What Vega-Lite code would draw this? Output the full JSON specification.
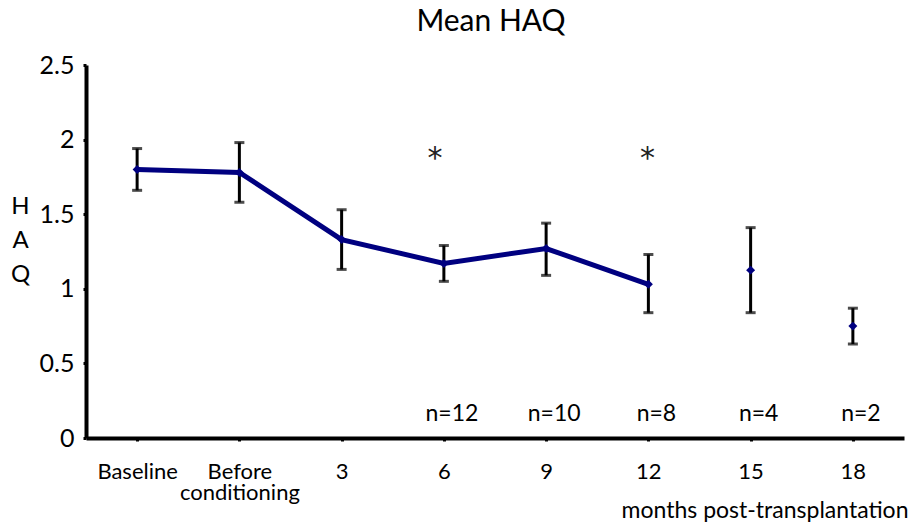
{
  "$schema": "https://vega.github.io/schema/vega-lite/v6.json",
  "autosize": "none",
  "width": 818,
  "height": 373,
  "padding": {"left": 86, "top": 65, "right": 11, "bottom": 90},
  "background": "white",
  "config": {
    "view": {"stroke": null},
    "font": "Lato",
    "axis": {"grid": false, "labelFont": "Lato", "titleFont": "Lato", "labelColor": "black", "titleColor": "black", "domainColor": "black", "tickColor": "black", "titleFontWeight": "normal"}
  },
  "title": {"text": "Mean HAQ", "fontSize": 30, "font": "Lato", "fontWeight": "normal", "color": "black", "anchor": "middle", "baseline": "alphabetic", "offset": -8, "dx": -4},
  "data": {
    "values": [
      {"time": "Baseline", "mean": 1.80, "lo": 1.66, "hi": 1.94, "connected": true, "n": null, "star": ""},
      {"time": "Before conditioning", "mean": 1.78, "lo": 1.58, "hi": 1.98, "connected": true, "n": null, "star": ""},
      {"time": "3", "mean": 1.33, "lo": 1.13, "hi": 1.53, "connected": true, "n": null, "star": ""},
      {"time": "6", "mean": 1.17, "lo": 1.05, "hi": 1.29, "connected": true, "n": "n=12", "star": "a"},
      {"time": "9", "mean": 1.27, "lo": 1.09, "hi": 1.44, "connected": true, "n": "n=10", "star": ""},
      {"time": "12", "mean": 1.03, "lo": 0.84, "hi": 1.23, "connected": true, "n": "n=8", "star": "b"},
      {"time": "15", "mean": 1.125, "lo": 0.84, "hi": 1.41, "connected": false, "n": "n=4", "star": ""},
      {"time": "18", "mean": 0.75, "lo": 0.63, "hi": 0.87, "connected": false, "n": "n=2", "star": ""}
    ]
  },
  "encoding": {
    "x": {
      "field": "time",
      "type": "ordinal",
      "sort": ["Baseline", "Before conditioning", "3", "6", "9", "12", "15", "18"],
      "scale": {"type": "point", "padding": 0.5},
      "axis": {
        "title": "months post-transplantation",
        "titleFontSize": 23,
        "titleAlign": "right",
        "titleAnchor": "end",
        "titleX": 822,
        "titleY": 79,
        "titleBaseline": "alphabetic",
        "labelAngle": 0,
        "labelFontSize": 22,
        "labelPadding": 20,
        "labelBaseline": "top",
        "labelLineHeight": 21,
        "labelExpr": "datum.value == 'Before conditioning' ? ['Before', 'conditioning'] : datum.value",
        "domainWidth": 4,
        "tickSize": 3,
        "tickWidth": 3,
        "encode": {
          "labels": {
            "update": {
              "dx": {"signal": "datum.value == 'Baseline' ? 15 : datum.value == 'Before conditioning' ? 25 : datum.value == '12' ? 8 : datum.value == '15' ? 6 : datum.value == '18' ? 8 : 2"},
              "dy": {"signal": "datum.value == '18' ? 8 : datum.value == 'Before conditioning' ? 2 : 0"}
            }
          }
        }
      }
    }
  },
  "layer": [
    {
      "mark": {"type": "rule", "color": "black", "strokeWidth": 3},
      "encoding": {
        "y": {
          "field": "lo",
          "type": "quantitative",
          "scale": {"domain": [0, 2.5], "nice": false, "zero": false},
          "axis": {
            "values": [0, 0.5, 1, 1.5, 2, 2.5],
            "labelExpr": "datum.value + ''",
            "labelFontSize": 25,
            "labelPadding": 9,
            "domainWidth": 4,
            "tickSize": 3,
            "tickWidth": 3,
            "title": ["H", "A", "Q"],
            "titleFontSize": 24,
            "titleAngle": 0,
            "titleLineHeight": 34,
            "titleAlign": "center",
            "titleBaseline": "top",
            "titleX": -66,
            "titleY": 129
          }
        },
        "y2": {"field": "hi"}
      }
    },
    {
      "mark": {"type": "tick", "color": "black", "thickness": 3, "size": 10, "orient": "horizontal"},
      "encoding": {"y": {"field": "lo", "type": "quantitative"}}
    },
    {
      "mark": {"type": "tick", "color": "black", "thickness": 3, "size": 10, "orient": "horizontal"},
      "encoding": {"y": {"field": "hi", "type": "quantitative"}}
    },
    {
      "transform": [{"filter": "datum.connected"}],
      "mark": {"type": "line", "color": "#000080", "strokeWidth": 5},
      "encoding": {"y": {"field": "mean", "type": "quantitative"}}
    },
    {
      "mark": {"type": "point", "shape": "diamond", "filled": true, "color": "#000080", "size": 80, "opacity": 1},
      "encoding": {"y": {"field": "mean", "type": "quantitative"}}
    },
    {
      "transform": [{"filter": "datum.n != null"}],
      "mark": {"type": "text", "fontSize": 23, "font": "Lato", "color": "black", "baseline": "middle", "dx": 8},
      "encoding": {"y": {"datum": 0.16}, "text": {"field": "n"}}
    },
    {
      "transform": [{"filter": "datum.star == 'a'"}],
      "mark": {"type": "text", "fontSize": 30, "font": "DejaVu Sans", "color": "#222222", "baseline": "alphabetic", "dx": -9},
      "encoding": {"y": {"datum": 1.81}, "text": {"value": "*"}}
    },
    {
      "transform": [{"filter": "datum.star == 'b'"}],
      "mark": {"type": "text", "fontSize": 30, "font": "DejaVu Sans", "color": "#222222", "baseline": "alphabetic", "dx": -1},
      "encoding": {"y": {"datum": 1.81}, "text": {"value": "*"}}
    }
  ]
}
